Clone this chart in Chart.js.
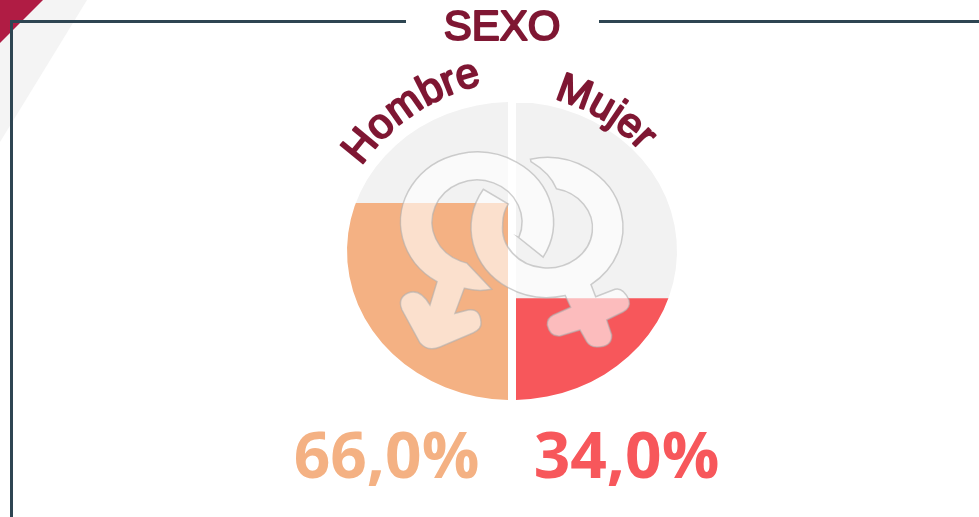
<!DOCTYPE html>
<html><head><meta charset="utf-8">
<style>html,body{margin:0;padding:0;background:#fff}canvas{display:block}</style>
<script src="https://cdn.jsdelivr.net/npm/chart.js@4"></script></head>
<body><canvas id="c" width="979" height="517"></canvas>
<script>
const titulo = 'SEXO';
const categorias = ['Hombre', 'Mujer'];
const valores = [66, 34];
const resto = [34, 66];
const coloresValor = ['#F4B183', '#F7575B'];
const colorResto = '#F2F2F2';
const colorTexto = '#7F1733';

function maleIcon() {
  const p = new Path2D();
  p.ellipse(477, 222, 76.5, 70, 0, 2.12, 6.81);
  p.lineTo(518, 237);
  p.ellipse(477, 222, 45, 42, 0, 0.375, 1.8, true);
  p.lineTo(491.7, 289.3);
  p.quadraticCurveTo(478, 292, 464.3, 288.3);
  p.lineTo(455, 313.3);
  p.lineTo(468, 310);
  p.quadraticCurveTo(480, 308, 481, 322);
  p.quadraticCurveTo(482, 329, 473, 333);
  p.lineTo(440, 347);
  p.quadraticCurveTo(428, 352, 420, 343);
  p.lineTo(402, 310);
  p.quadraticCurveTo(397, 298, 408, 293);
  p.quadraticCurveTo(420, 288, 430, 305);
  p.closePath();
  return p;
}
function femaleIcon() {
  const p = new Path2D();
  p.ellipse(547, 227.5, 76, 70, 0, -1.79, 0.954);
  p.lineTo(595.7, 296.7);
  p.lineTo(615, 289.3);
  p.quadraticCurveTo(623, 287, 629, 300);
  p.quadraticCurveTo(631, 308, 623, 312);
  p.lineTo(606.7, 320);
  p.lineTo(611.7, 335);
  p.quadraticCurveTo(612, 347, 597, 347);
  p.quadraticCurveTo(590, 347, 586.7, 341.7);
  p.lineTo(580, 330);
  p.lineTo(560, 336);
  p.quadraticCurveTo(550, 337, 547.3, 325);
  p.quadraticCurveTo(547, 318, 553.3, 315);
  p.lineTo(570.7, 307.3);
  p.lineTo(565, 295);
  p.ellipse(547, 227.5, 76, 70, 0, 1.33, 3.72);
  p.lineTo(508.3, 204);
  p.quadraticCurveTo(503, 212, 502.7, 223.3);
  p.ellipse(547.5, 228, 45, 40, 0, 3.24, -1.37, true);
  p.quadraticCurveTo(550, 173, 531, 161.7);
  p.closePath();
  return p;
}
function arcText(ctx, text, cx, cy, R, startDeg, font) {
  ctx.save();
  ctx.font = font;
  ctx.fillStyle = colorTexto;
  ctx.strokeStyle = colorTexto;
  ctx.lineWidth = 2;
  ctx.lineJoin = 'round';
  ctx.textAlign = 'center';
  ctx.textBaseline = 'alphabetic';
  let a = startDeg * Math.PI / 180;
  for (const ch of text) {
    const w = ctx.measureText(ch).width;
    const m = a + (w / 2) / R;
    ctx.save();
    ctx.translate(cx + R * Math.sin(m), cy - R * Math.cos(m));
    ctx.rotate(m);
    ctx.fillText(ch, 0, 0);
    ctx.strokeText(ch, 0, 0);
    ctx.restore();
    a += w / R;
  }
  ctx.restore();
}
const fmt = v => v.toFixed(1).replace('.', ',') + '%';

const decor = {
  id: 'decor',
  beforeDraw(chart) {
    const ctx = chart.ctx;
    ctx.save();
    ctx.fillStyle = '#fff';
    ctx.fillRect(0, 0, 979, 517);
    ctx.fillStyle = '#F4F4F4';
    ctx.beginPath(); ctx.moveTo(42, 0); ctx.lineTo(87, 0); ctx.lineTo(0, 142); ctx.lineTo(0, 42); ctx.closePath(); ctx.fill();
    ctx.fillStyle = '#B01C44';
    ctx.beginPath(); ctx.moveTo(0, 0); ctx.lineTo(43, 0); ctx.lineTo(0, 43); ctx.closePath(); ctx.fill();
    ctx.fillStyle = '#2E4552';
    ctx.fillRect(10, 20, 396, 3);
    ctx.fillRect(599, 20, 380, 3);
    ctx.fillRect(10, 20, 3, 497);
    ctx.restore();
  },
  beforeDatasetsDraw(chart) {
    const {left, right, top, bottom} = chart.chartArea;
    const ctx = chart.ctx;
    const cx = (left + right) / 2, cy = (top + bottom) / 2;
    const rx = (right - left) / 2, ry = (bottom - top) / 2;
    const g = 4;
    const phi = Math.acos(g / rx);
    ctx.save();
    ctx.beginPath();
    ctx.ellipse(cx, cy, rx, ry, 0, Math.PI - phi, Math.PI + phi, false);
    ctx.closePath();
    ctx.moveTo(cx + g, top);
    ctx.ellipse(cx, cy, rx, ry, 0, -phi, phi, false);
    ctx.closePath();
    ctx.clip();
  },
  afterDatasetsDraw(chart) {
    const ctx = chart.ctx;
    ctx.restore();
    ctx.save();
    for (const p of [femaleIcon(), maleIcon()]) {
      ctx.fillStyle = 'rgba(255,255,255,0.6)';
      ctx.fill(p);
      ctx.strokeStyle = 'rgba(175,175,175,0.6)';
      ctx.lineWidth = 1.5;
      ctx.stroke(p);
    }
    ctx.restore();
  },
  afterDraw(chart) {
    const ctx = chart.ctx;
    ctx.save();
    ctx.textBaseline = 'alphabetic';
    ctx.textAlign = 'center';
    ctx.fillStyle = colorTexto;
    ctx.strokeStyle = colorTexto;
    ctx.lineWidth = 2;
    ctx.lineJoin = 'round';
    ctx.font = '42px "Liberation Sans"';
    ctx.fillText(titulo, 502, 40);
    ctx.strokeText(titulo, 502, 40);
    ctx.font = 'bold 64px "Open Sans"';
    ctx.fillStyle = coloresValor[0];
    ctx.fillText(fmt(valores[0]), 386.5, 478);
    ctx.fillStyle = coloresValor[1];
    ctx.fillText(fmt(valores[1]), 626.5, 478);
    ctx.restore();
    arcText(ctx, categorias[0], 529, 284, 205, -55, '42px "Liberation Sans"');
    arcText(ctx, categorias[1], 508, 273, 180, 14.8, '41px "Liberation Sans"');
  }
};

new Chart(document.getElementById('c'), {
  type: 'bar',
  data: {
    labels: categorias,
    datasets: [
      {label: 'Valor', data: valores, backgroundColor: coloresValor, borderWidth: 0, categoryPercentage: 1, barPercentage: 1},
      {label: 'Resto', data: resto, backgroundColor: colorResto, borderWidth: 0, categoryPercentage: 1, barPercentage: 1}
    ]
  },
  options: {
    responsive: false,
    animation: false,
    layout: {padding: {left: 347, right: 302, top: 102, bottom: 117}},
    plugins: {legend: {display: false}, tooltip: {enabled: false}, title: {display: false}},
    scales: {
      x: {display: false, stacked: true},
      y: {display: false, stacked: true, min: 0, max: 100}
    }
  },
  plugins: [decor]
});
</script></body></html>
